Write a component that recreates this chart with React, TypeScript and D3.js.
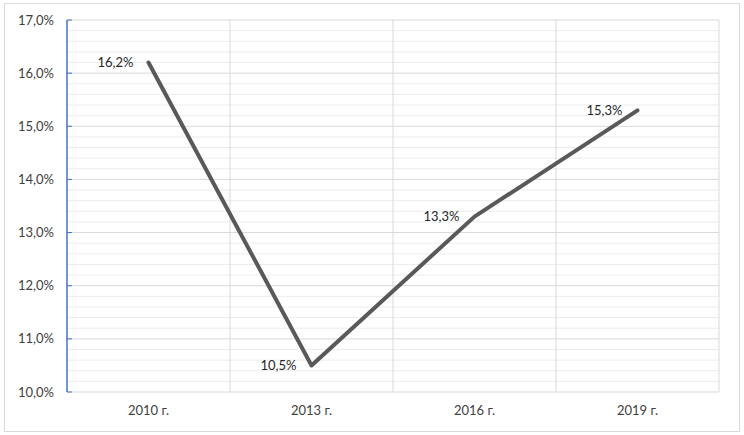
import React from "react";
import * as d3 from "d3";

const categories = ["2010 г.", "2013 г.", "2016 г.", "2019 г."];
const values = [16.2, 10.5, 13.3, 15.3];
const yTicks = [10, 11, 12, 13, 14, 15, 16, 17];

const W = 744, H = 435;
const M = { left: 67, right: 25, top: 20, bottom: 43 };

const fmt = (v: number) => v.toFixed(1).replace(".", ",") + "%";

export default function App() {
  const x = d3.scaleBand<string>().domain(categories).range([M.left, W - M.right]).padding(0);
  const y = d3.scaleLinear().domain([10, 17]).range([H - M.bottom, M.top]);
  const minor = d3.range(10, 17.0001, 0.2).filter((v) => Math.abs(v - Math.round(v)) > 1e-6);
  const line = d3
    .line<number>()
    .x((_, i) => (x(categories[i]) as number) + x.bandwidth() / 2)
    .y((d) => y(d));
  const font = "Lato, 'Open Sans', sans-serif";
  return (
    <svg width={W} height={H} style={{ position: "absolute", left: 0, top: 0 }} fontFamily={font}>
      <rect x={0} y={0} width={W} height={H} fill="#fff" />
      <rect x={4.5} y={3.5} width={735} height={428} fill="#fff" stroke="#d9d9d9" />
      {minor.map((v) => (
        <line key={"m" + v} x1={M.left} x2={W - M.right} y1={y(v)} y2={y(v)} stroke="#ececec" strokeWidth={1} />
      ))}
      {yTicks.map((v) => (
        <line key={"g" + v} x1={M.left} x2={W - M.right} y1={y(v)} y2={y(v)} stroke="#d9d9d9" strokeWidth={1} />
      ))}
      {categories.map((c, i) => (
        <line key={"v" + c} x1={(x(c) as number) + x.bandwidth()} x2={(x(c) as number) + x.bandwidth()} y1={M.top} y2={H - M.bottom} stroke="#d9d9d9" />
      ))}
      <line x1={M.left} x2={M.left} y1={M.top} y2={H - M.bottom} stroke="#4472C4" strokeWidth={1.5} />
      {yTicks.map((v) => (
        <line key={"t" + v} x1={M.left} x2={M.left + 5} y1={y(v)} y2={y(v)} stroke="#4472C4" strokeWidth={1} />
      ))}
      {yTicks.map((v) => (
        <text key={"yl" + v} x={54} y={y(v)} dy="0.35em" textAnchor="end" fontSize={13} fill="#404040">
          {fmt(v)}
        </text>
      ))}
      {categories.map((c) => (
        <text key={"xl" + c} x={(x(c) as number) + x.bandwidth() / 2} y={H - M.bottom + 23} textAnchor="middle" fontSize={13} fill="#404040">
          {c}
        </text>
      ))}
      <path d={line(values) || ""} fill="none" stroke="#595959" strokeWidth={4} strokeLinejoin="round" strokeLinecap="round" />
      {values.map((v, i) => {
        const cx = (x(categories[i]) as number) + x.bandwidth() / 2;
        const cy = y(v);
        return (
          <text key={"dl" + i} x={cx - 15} y={cy} dy="0.35em" textAnchor="end" fontSize={13} fill="#262626">
            {fmt(v)}
          </text>
        );
      })}
    </svg>
  );
}
